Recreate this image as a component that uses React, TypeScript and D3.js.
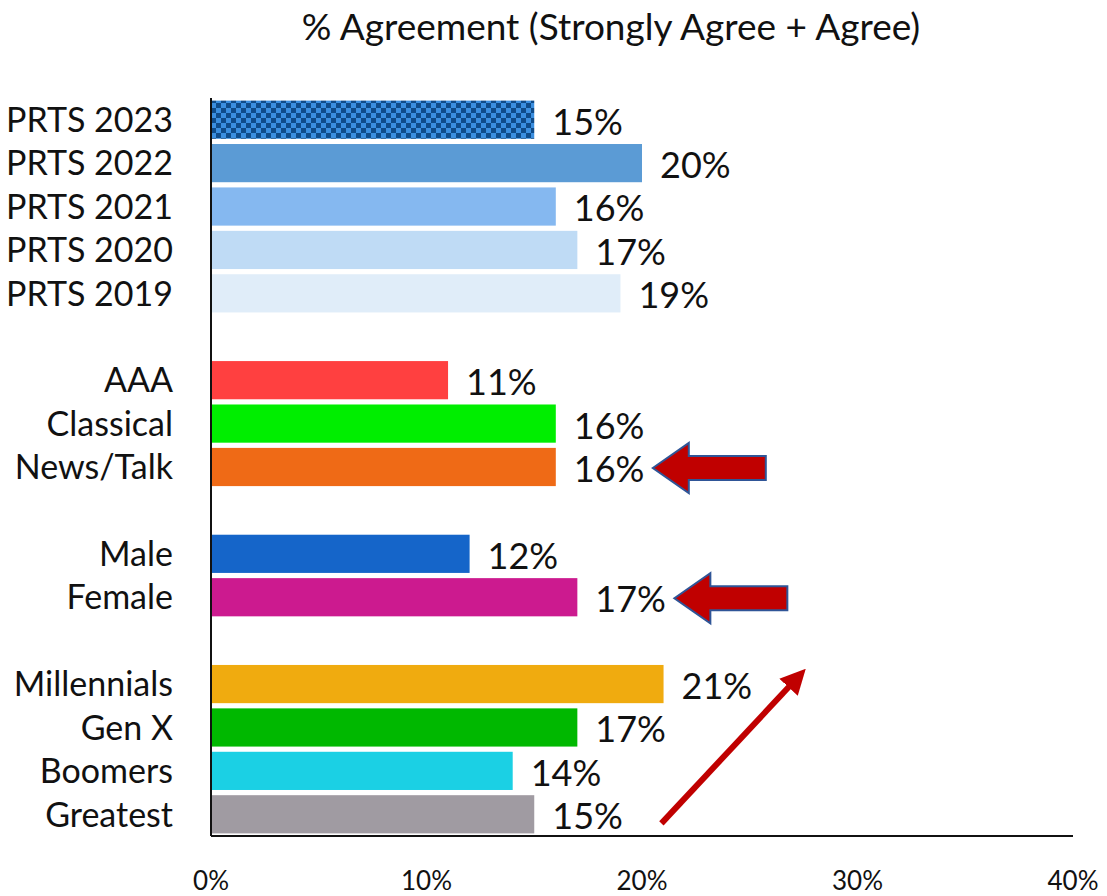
import React, { useEffect, useRef } from 'react';
import * as d3 from 'd3';

const categories = [
  'PRTS 2023', 'PRTS 2022', 'PRTS 2021', 'PRTS 2020', 'PRTS 2019', '',
  'AAA', 'Classical', 'News/Talk', '',
  'Male', 'Female', '',
  'Millennials', 'Gen X', 'Boomers', 'Greatest',
];
const values = [15, 20, 16, 17, 19, null, 11, 16, 16, null, 12, 17, null, 21, 17, 14, 15];
const colors = [
  'url(#checker)', '#5b9bd5', '#85b8f0', '#bfdbf5', '#e0edf9', null,
  '#ff4040', '#00ee00', '#ef6a16', null,
  '#1565c9', '#cc1a8f', null,
  '#f0ab0f', '#00b800', '#1bd0e4', '#a09ba2',
];
const xTicks = [0, 10, 20, 30, 40];
const callouts = ['News/Talk', 'Female'];

const W = 1107;
const H = 896;
const margin = { top: 98, right: 34, bottom: 60, left: 211 };
const font = 'Lato, "Open Sans", sans-serif';

const App = () => {
  const svgRef = useRef<SVGSVGElement>(null);

  useEffect(() => {
    const svg = d3.select(svgRef.current);
    svg.selectAll('*').remove();

    const chartW = W - margin.left - margin.right;
    const chartH = H - margin.top - margin.bottom;

    const x = d3.scaleLinear().domain([0, 40]).range([0, chartW]);
    const y = d3.scaleBand<number>()
      .domain(categories.map((_, i) => i))
      .range([0, chartH])
      .paddingInner(0.12)
      .paddingOuter(0.06);

    const defs = svg.append('defs');
    const pat = defs.append('pattern')
      .attr('id', 'checker')
      .attr('patternUnits', 'userSpaceOnUse')
      .attr('width', 10).attr('height', 10);
    pat.append('rect').attr('width', 10).attr('height', 10).attr('fill', '#3b8fe0');
    pat.append('rect').attr('width', 5).attr('height', 5).attr('fill', '#0f4c8a');
    pat.append('rect').attr('x', 5).attr('y', 5).attr('width', 5).attr('height', 5).attr('fill', '#0f4c8a');

    defs.append('marker')
      .attr('id', 'head')
      .attr('viewBox', '0 0 10 10')
      .attr('refX', 5).attr('refY', 5)
      .attr('markerWidth', 4.2).attr('markerHeight', 4.2)
      .attr('markerUnits', 'strokeWidth')
      .attr('orient', 'auto')
      .append('path')
      .attr('d', 'M0,0 L10,5 L0,10 Z')
      .attr('fill', '#c00000');

    svg.append('text')
      .attr('x', 611).attr('y', 40)
      .attr('text-anchor', 'middle')
      .attr('font-family', font)
      .attr('font-size', 37)
      .attr('fill', '#111')
      .text('% Agreement (Strongly Agree + Agree)');

    const g = svg.append('g').attr('transform', `translate(${margin.left},${margin.top})`);

    const rows = categories.map((c, i) => ({ c, i, v: values[i], col: colors[i] }))
      .filter(d => d.v != null);

    g.selectAll('rect.bar')
      .data(rows)
      .join('rect')
      .attr('class', 'bar')
      .attr('x', 0)
      .attr('y', d => y(d.i)!)
      .attr('width', d => x(d.v as number))
      .attr('height', y.bandwidth())
      .attr('fill', d => d.col as string);

    g.selectAll('text.cat')
      .data(rows)
      .join('text')
      .attr('class', 'cat')
      .attr('x', -38)
      .attr('y', d => y(d.i)! + y.bandwidth() / 2)
      .attr('dy', '0.36em')
      .attr('text-anchor', 'end')
      .attr('font-family', font)
      .attr('font-size', 34)
      .attr('fill', '#111')
      .text(d => d.c);

    g.selectAll('text.val')
      .data(rows)
      .join('text')
      .attr('class', 'val')
      .attr('x', d => x(d.v as number) + 18)
      .attr('y', d => y(d.i)! + y.bandwidth() / 2 + 2)
      .attr('dy', '0.36em')
      .attr('font-family', font)
      .attr('font-size', 36)
      .attr('fill', '#111')
      .text(d => `${d.v}%`);

    // axes
    g.append('line')
      .attr('x1', 0).attr('x2', 0).attr('y1', 0).attr('y2', chartH)
      .attr('stroke', '#111').attr('stroke-width', 2);
    g.append('line')
      .attr('x1', 0).attr('x2', chartW).attr('y1', chartH).attr('y2', chartH)
      .attr('stroke', '#111').attr('stroke-width', 2);

    g.selectAll('text.tick')
      .data(xTicks)
      .join('text')
      .attr('class', 'tick')
      .attr('x', d => x(d))
      .attr('y', chartH + 54)
      .attr('text-anchor', 'middle')
      .attr('font-family', font)
      .attr('font-size', 26)
      .attr('fill', '#111')
      .text(d => `${d}%`);

    // block arrows pointing at callout rows
    const arrowLen = 113, headLen = 36, shaftH = 24, headH = 50;
    rows.filter(d => callouts.includes(d.c)).forEach(d => {
      const tip = x(d.v as number) + 97;
      const cy = y(d.i)! + y.bandwidth() / 2 + 1;
      const pts = [
        [tip, cy],
        [tip + headLen, cy - headH / 2],
        [tip + headLen, cy - shaftH / 2],
        [tip + arrowLen, cy - shaftH / 2],
        [tip + arrowLen, cy + shaftH / 2],
        [tip + headLen, cy + shaftH / 2],
        [tip + headLen, cy + headH / 2],
      ];
      g.append('path')
        .attr('d', d3.line()(pts as [number, number][]) + 'Z')
        .attr('fill', '#c00000')
        .attr('stroke', '#2f5597')
        .attr('stroke-width', 2)
        .attr('stroke-linejoin', 'miter');
    });

    // diagonal trend arrow
    const last = categories.length - 1;
    const top = categories.indexOf('Millennials');
    g.append('line')
      .attr('x1', x(20.9))
      .attr('y1', y(last)! + y.bandwidth() - 10)
      .attr('x2', x(27.2))
      .attr('y2', y(top)! + y.bandwidth() / 2 - 6)
      .attr('stroke', '#c00000')
      .attr('stroke-width', 6)
      .attr('marker-end', 'url(#head)');
  }, []);

  return (
    <svg
      ref={svgRef}
      width={W}
      height={H}
      style={{ position: 'absolute', left: 0, top: 0, background: '#fff' }}
    />
  );
};

export default App;
